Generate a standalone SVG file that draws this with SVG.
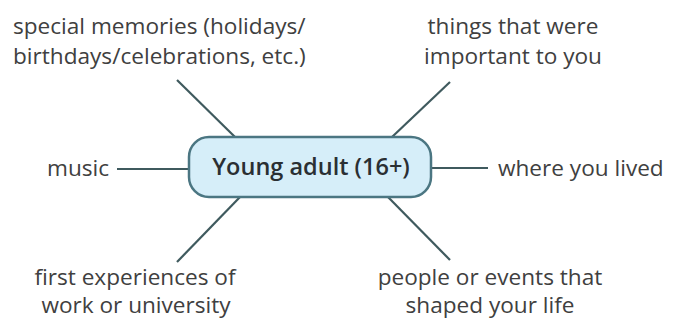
<svg xmlns="http://www.w3.org/2000/svg" width="684" height="321" viewBox="0 0 684 321">
<style>
text{font-family:"Open Sans","Noto Sans",sans-serif;font-size:22.6px;fill:#404040}
.c{text-anchor:middle}
.conn line{stroke:#3f5a5e;stroke-width:2.2}
.hub{fill:#d6eef9;stroke:#4b7682;stroke-width:2.5}
.title{font-size:23.5px;fill:#2a2f33;font-weight:600}
</style>
<rect width="684" height="321" fill="#fff"/>
<g id="connectors" class="conn">
<line x1="177" y1="80" x2="235" y2="137"/>
<line x1="450" y1="82" x2="392" y2="137"/>
<line x1="117" y1="169" x2="189" y2="169"/>
<line x1="431" y1="168" x2="488" y2="168"/>
<line x1="240" y1="197" x2="177" y2="262"/>
<line x1="388" y1="197" x2="450" y2="260"/>
</g>
<g id="hub">
<rect class="hub" x="189" y="137" width="242" height="60" rx="20"/>
<text class="title c" x="311" y="175">Young adult (16+)</text>
</g>
<g id="special">
<text x="13" y="34">special memories (holidays/</text>
<text x="13" y="64">birthdays/celebrations, etc.)</text>
</g>
<g id="things">
<text class="c" x="513" y="34">things that were</text>
<text class="c" x="513" y="64">important to you</text>
</g>
<g id="music">
<text x="47" y="176">music</text>
</g>
<g id="where">
<text x="498" y="176">where you lived</text>
</g>
<g id="first">
<text class="c" x="135" y="285">first experiences of</text>
<text class="c" x="136" y="313">work or university</text>
</g>
<g id="people">
<text class="c" x="490" y="285">people or events that</text>
<text class="c" x="490" y="313">shaped your life</text>
</g>
</svg>
